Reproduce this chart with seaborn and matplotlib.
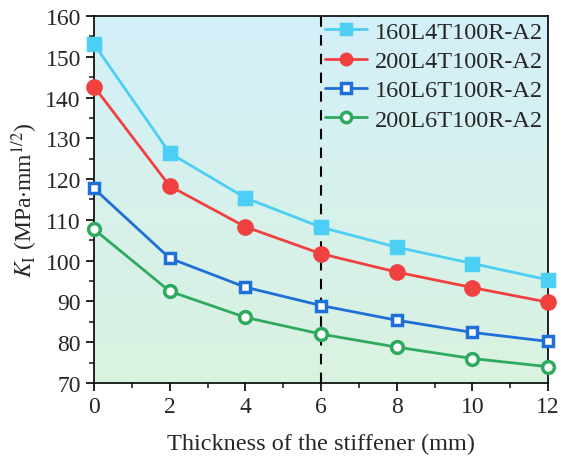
import matplotlib
matplotlib.use('Agg')
import matplotlib.pyplot as plt
import numpy as np
import pandas as pd
import seaborn as sns

# Data
thickness = [0, 2, 4, 6, 8, 10, 12]
k_160L4 = [153.1, 126.4, 115.4, 108.2, 103.3, 99.3, 95.3]
k_200L4 = [142.7, 118.3, 108.3, 101.7, 97.2, 93.4, 89.8]
k_160L6 = [117.7, 100.6, 93.5, 89.0, 85.4, 82.4, 80.2]
k_200L6 = [107.7, 92.5, 86.1, 82.0, 78.8, 76.0, 74.0]
names = ['160L4T100R-A2', '200L4T100R-A2', '160L6T100R-A2', '200L6T100R-A2']

df = pd.DataFrame({'t': thickness * 4,
                   'k': k_160L4 + k_200L4 + k_160L6 + k_200L6,
                   'series': sum([[n] * len(thickness) for n in names], [])})

sns.set_style('ticks')
plt.rcParams['font.family'] = 'serif'
plt.rcParams['font.serif'] = ['Liberation Serif', 'DejaVu Serif']
plt.rcParams['mathtext.fontset'] = 'stix'

fig = plt.figure(figsize=(5.61, 4.64), dpi=100)
ax = fig.add_axes([0.1676, 0.1724, 0.8094, 0.791])

# gradient background: light blue top -> light green bottom
top = np.array([0.83, 0.94, 0.975])
bot = np.array([0.855, 0.95, 0.88])
grad = np.linspace(0, 1, 256)[:, None, None]
img = top * (1 - grad) + bot * grad
ax.imshow(img, extent=[0, 12, 70, 160], aspect='auto', zorder=0, origin='upper')

styles = {
    '160L4T100R-A2': dict(color='#4dcff5', marker='s', mfc='#4dcff5', ms=8.5),
    '200L4T100R-A2': dict(color='#f04040', marker='o', mfc='#f04040', ms=9.5),
    '160L6T100R-A2': dict(color='#1f6fd8', marker='s', mfc='white', ms=7.5),
    '200L6T100R-A2': dict(color='#2eaa5e', marker='o', mfc='white', ms=8.5),
}
for n in names:
    st = styles[n]
    sns.lineplot(data=df[df['series'] == n], x='t', y='k', ax=ax, label=n,
                 color=st['color'], marker=st['marker'], markersize=st['ms'],
                 markerfacecolor=st['mfc'], markeredgecolor=st['color'],
                 markeredgewidth=2.5, linewidth=2, clip_on=False, zorder=3)

ax.axvline(6, color='black', linestyle=(0, (5, 4)), linewidth=1.5, zorder=2)

ax.set_xlim(0, 12)
ax.set_ylim(70, 160)
ax.set_xticks(range(0, 13, 2))
ax.set_xticks(range(1, 13, 2), minor=True)
ax.set_yticks(range(70, 161, 10))
ax.set_yticks(range(75, 160, 10), minor=True)
ax.tick_params(axis='both', which='major', labelsize=17, length=6, width=1.2,
               direction='out', color='black')
ax.tick_params(axis='both', which='minor', length=3.5, width=1.2, direction='out')
for s in ax.spines.values():
    s.set_linewidth(1.2)
    s.set_color('black')

ax.set_xlabel('Thickness of the stiffener (mm)', fontsize=17.5, labelpad=11)
ax.set_ylabel(r'$K_{\mathrm{I}}$ (MPa$\cdot$mm$^{1/2}$)', fontsize=17, labelpad=4)

leg = ax.legend(loc='upper right', bbox_to_anchor=(1.0, 1.0), fontsize=17.5,
                frameon=False, handlelength=1.7, handletextpad=0.35,
                labelspacing=0.3, borderaxespad=0.0, borderpad=0.2)
for h in leg.legend_handles:
    h.set_markersize(7.5)

fig.savefig('out.png', dpi=100)
